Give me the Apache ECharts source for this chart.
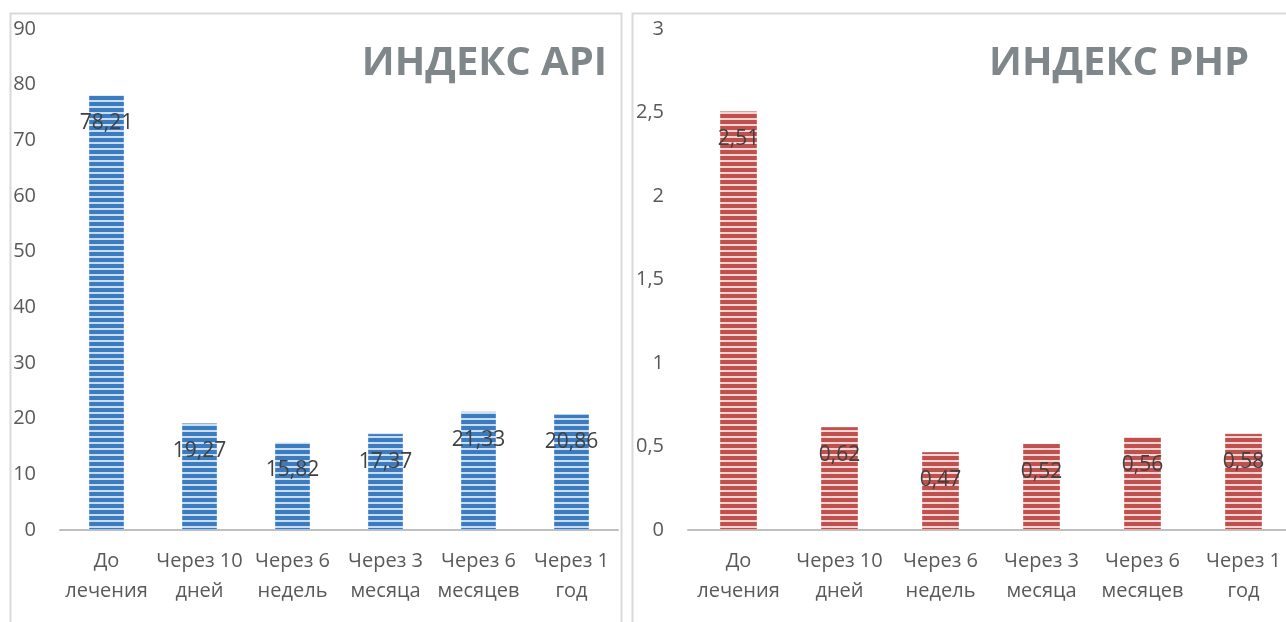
<!DOCTYPE html>
<html>
<head>
<meta charset="utf-8">
<script src="https://cdn.jsdelivr.net/npm/echarts@6/dist/echarts.min.js"></script>
<style>
  html, body { margin: 0; padding: 0; background: #fff; }
  #main { width: 1286px; height: 622px; }
</style>
</head>
<body>
<div id="main"></div>
<script>
// данные
const categories = ['До\nлечения', 'Через 10\nдней', 'Через 6\nнедель', 'Через 3\nмесяца', 'Через 6\nмесяцев', 'Через 1\nгод'];
const apiValues = [78.21, 19.27, 15.82, 17.37, 21.33, 20.86];
const phpValues = [2.51, 0.62, 0.47, 0.52, 0.56, 0.58];
const apiTitle = 'ИНДЕКС API';
const phpTitle = 'ИНДЕКС PHP';

// полосатая заливка столбцов
function stripes(dark, light) {
  const c = document.createElement('canvas');
  c.width = 4; c.height = 6;
  const ctx = c.getContext('2d');
  ctx.fillStyle = dark;
  ctx.fillRect(0, 0, 4, 6);
  ctx.fillStyle = light;
  ctx.fillRect(0, 4, 4, 2);
  return { image: c, repeat: 'repeat' };
}

const comma = v => String(v).replace('.', ',');
const font = '"Open Sans", "Noto Sans", sans-serif';

const chart = echarts.init(document.getElementById('main'));

function xAxis(gridIndex) {
  return {
    type: 'category', gridIndex, data: categories,
    axisLine: { lineStyle: { color: '#bfbfbf', width: 2 } },
    axisTick: { show: false },
    axisLabel: { color: '#595959', fontSize: 20, lineHeight: 30, margin: 16, fontFamily: font, interval: 0 }
  };
}
function yAxis(gridIndex, max, interval) {
  return {
    type: 'value', gridIndex, min: 0, max, interval,
    axisLine: { show: false }, axisTick: { show: false }, splitLine: { show: false },
    axisLabel: { color: '#595959', fontSize: 20, margin: 24, fontFamily: font, formatter: comma }
  };
}
function bars(idx, data, dark, light, width) {
  return {
    type: 'bar', xAxisIndex: idx, yAxisIndex: idx, data, barWidth: width,
    itemStyle: { color: stripes(dark, light), borderColor: 'rgba(255,255,255,0.35)', borderWidth: 1 },
    label: {
      show: true, position: 'insideTop', distance: 18,
      color: '#404040', fontSize: 21, fontFamily: font, formatter: p => comma(p.value)
    }
  };
}

chart.setOption({
  animation: false,
  title: [
    { text: apiTitle, right: 674, top: 39,
      textStyle: { color: '#7f878b', fontSize: 40, fontWeight: 'bold', fontFamily: font } },
    { text: phpTitle, left: 984, top: 39,
      textStyle: { color: '#7f878b', fontSize: 40, fontWeight: 'bold', fontFamily: font } }
  ],
  graphic: [
    { type: 'rect', shape: { x: 10.5, y: 13.5, width: 611, height: 640 }, style: { fill: 'none', stroke: '#d9d9d9', lineWidth: 2 }, silent: true },
    { type: 'rect', shape: { x: 632.5, y: 13.5, width: 700, height: 640 }, style: { fill: 'none', stroke: '#d9d9d9', lineWidth: 2 }, silent: true }
  ],
  grid: [
    { left: 60, top: 29, right: 668, bottom: 92, outerBoundsMode: 'none' },
    { left: 688, top: 29, width: 606, bottom: 92, outerBoundsMode: 'none' }
  ],
  xAxis: [xAxis(0), xAxis(1)],
  yAxis: [yAxis(0, 90, 10), yAxis(1, 3, 0.5)],
  series: [
    bars(0, apiValues, '#3b7bc0', '#c9dcf0', 36),
    bars(1, phpValues, '#c0504d', '#f2d4d3', 38)
  ]
});
</script>
</body>
</html>
